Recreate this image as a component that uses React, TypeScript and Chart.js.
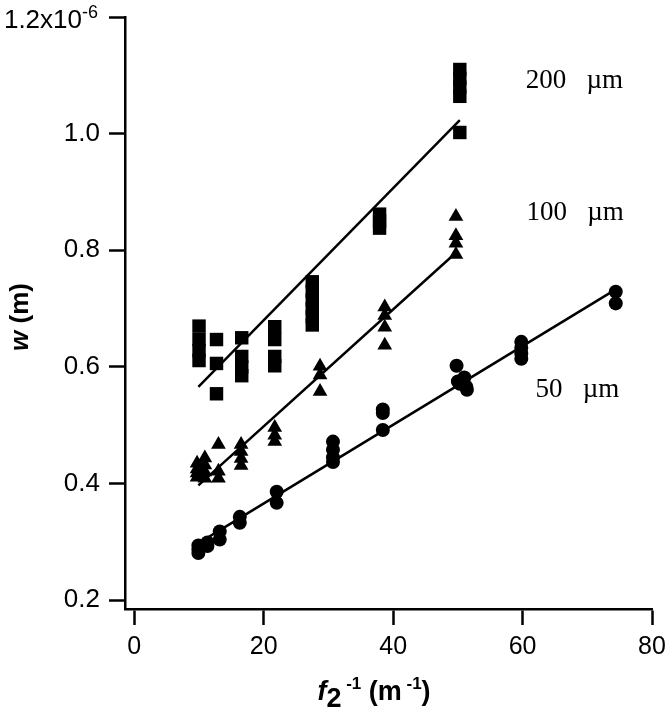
import React, { useEffect, useRef } from 'react';
import { Chart, registerables } from 'chart.js';

Chart.register(...registerables);

// ---------- data ----------
const xTicks = [0, 20, 40, 60, 80];
const yTicks = [0.2, 0.4, 0.6, 0.8, 1.0, 1.2];

// 200 µm (squares)
const sqX = [10.0, 10.0, 10.0, 10.0, 12.7, 12.7, 12.7, 16.6, 16.6, 16.6, 16.6, 21.7, 21.7, 21.7, 21.7, 27.5, 27.5, 27.5, 27.5, 27.5, 27.5, 37.9, 37.9, 37.9, 50.3, 50.3, 50.3, 50.3, 50.3];
const sqY = [0.670, 0.647, 0.628, 0.611, 0.647, 0.606, 0.554, 0.650, 0.618, 0.600, 0.585, 0.669, 0.647, 0.618, 0.602, 0.746, 0.730, 0.715, 0.700, 0.686, 0.672, 0.862, 0.850, 0.838, 1.110, 1.095, 1.080, 1.064, 1.002];

// 100 µm (triangles)
const trX = [9.7, 9.7, 9.7, 9.7, 10.9, 10.9, 10.9, 10.9, 13.0, 13.0, 13.0, 16.5, 16.5, 16.5, 16.5, 21.7, 21.7, 21.7, 28.7, 28.7, 28.7, 38.7, 38.7, 38.7, 38.7, 49.7, 49.7, 49.7, 49.7];
const trY = [0.435, 0.425, 0.418, 0.411, 0.444, 0.432, 0.420, 0.409, 0.467, 0.421, 0.409, 0.467, 0.455, 0.443, 0.431, 0.496, 0.483, 0.472, 0.601, 0.586, 0.558, 0.703, 0.688, 0.668, 0.637, 0.858, 0.825, 0.812, 0.793];

// 50 µm (circles)
const ciX = [9.9, 9.9, 9.9, 11.3, 11.3, 13.2, 13.2, 16.3, 16.3, 22.0, 22.0, 30.7, 30.7, 30.7, 30.7, 38.4, 38.4, 38.4, 49.8, 50.0, 50.3, 51.0, 51.3, 51.4, 59.8, 59.8, 59.8, 59.8, 74.4, 74.4];
const ciY = [0.294, 0.287, 0.281, 0.299, 0.293, 0.318, 0.304, 0.343, 0.333, 0.386, 0.367, 0.472, 0.458, 0.445, 0.437, 0.527, 0.521, 0.492, 0.602, 0.575, 0.571, 0.582, 0.566, 0.561, 0.643, 0.633, 0.623, 0.614, 0.729, 0.709];

// fitted lines (end points)
const fit200X = [9.9, 50.3];
const fit200Y = [0.566, 1.023];
const fit100X = [9.9, 49.6];
const fit100Y = [0.397, 0.795];
const fit50X = [9.8, 74.4];
const fit50Y = [0.297, 0.733];

// series labels
const seriesLabels = ['200   µm', '100   µm', '50   µm'];
const seriesLabelX = [60.5, 60.6, 62.0];
const seriesLabelY = [1.079, 0.852, 0.548];

const SANS = '"Liberation Sans", Arial, sans-serif';
const SERIF = '"Liberation Serif", "Times New Roman", serif';

const pts = (xs: number[], ys: number[]) => xs.map((x, i) => ({ x, y: ys[i] }));

const textPlugin = {
  id: 'customText',
  afterDraw(chart: any) {
    const { ctx, chartArea } = chart;
    const xs = chart.scales.x;
    const ys = chart.scales.y;
    ctx.save();
    ctx.fillStyle = '#000';

    // top y tick label: 1.2x10^-6
    const topY = ys.getPixelForValue(1.2);
    const rightEdge = 98;
    ctx.font = `26px ${SANS}`;
    const w1 = ctx.measureText('1.2x10').width;
    ctx.font = `18px ${SANS}`;
    const w2 = ctx.measureText('-6').width;
    const start = rightEdge - w1 - w2;
    ctx.textAlign = 'left';
    ctx.textBaseline = 'middle';
    ctx.font = `26px ${SANS}`;
    ctx.fillText('1.2x10', start, topY + 4);
    ctx.textBaseline = 'alphabetic';
    ctx.font = `18px ${SANS}`;
    ctx.fillText('-6', start + w1, topY + 1);

    // x title
    const xPieces = [
      { t: 'f', f: `italic bold 27px ${SANS}`, dy: 0 },
      { t: '2', f: `bold 27px ${SANS}`, dy: 7 },
      { t: ' -1', f: `bold 17px ${SANS}`, dy: -11 },
      { t: ' (m', f: `bold 27px ${SANS}`, dy: 0 },
      { t: ' -1', f: `bold 17px ${SANS}`, dy: -11 },
      { t: ')', f: `bold 27px ${SANS}`, dy: 0 },
    ];
    let total = 0;
    xPieces.forEach((p) => { ctx.font = p.f; total += ctx.measureText(p.t).width; });
    let cx = 374 - total / 2;
    const base = 700;
    xPieces.forEach((p) => {
      ctx.font = p.f;
      ctx.fillText(p.t, cx, base + p.dy);
      cx += ctx.measureText(p.t).width;
    });

    // y title (rotated)
    const yPieces = [
      { t: 'w', f: `italic bold 26px ${SANS}` },
      { t: ' (m)', f: `bold 26px ${SANS}` },
    ];
    let ytot = 0;
    yPieces.forEach((p) => { ctx.font = p.f; ytot += ctx.measureText(p.t).width; });
    ctx.save();
    ctx.translate(28, (chartArea.top + chartArea.bottom) / 2 + 4);
    ctx.rotate(-Math.PI / 2);
    let cy = -ytot / 2;
    yPieces.forEach((p) => {
      ctx.font = p.f;
      ctx.fillText(p.t, cy, 0);
      cy += ctx.measureText(p.t).width;
    });
    ctx.restore();

    // series labels
    ctx.font = `27px ${SERIF}`;
    ctx.textBaseline = 'alphabetic';
    seriesLabels.forEach((s, i) => {
      ctx.fillText(s, xs.getPixelForValue(seriesLabelX[i]), ys.getPixelForValue(seriesLabelY[i]));
    });
    ctx.restore();
  },
};

export default function App() {
  const ref = useRef<HTMLCanvasElement | null>(null);
  useEffect(() => {
    if (!ref.current) return;
    const markerBase = { showLine: false, backgroundColor: '#000', borderColor: '#000', borderWidth: 0 };
    const lineBase = { showLine: true, borderColor: '#000', borderWidth: 2.5, pointRadius: 0, backgroundColor: '#000' };
    const chart = new Chart(ref.current, {
      type: 'scatter',
      data: {
        datasets: [
          { ...lineBase, label: 'fit 200', data: pts(fit200X, fit200Y) },
          { ...lineBase, label: 'fit 100', data: pts(fit100X, fit100Y) },
          { ...lineBase, label: 'fit 50', data: pts(fit50X, fit50Y) },
          { ...markerBase, label: '200 µm', data: pts(sqX, sqY), pointStyle: 'rect', pointRadius: 9.5 },
          { ...markerBase, label: '100 µm', data: pts(trX, trY), pointStyle: 'triangle', pointRadius: 8.5 },
          { ...markerBase, label: '50 µm', data: pts(ciX, ciY), pointStyle: 'circle', pointRadius: 7 },
        ],
      },
      options: {
        responsive: false,
        animation: false,
        devicePixelRatio: 1,
        layout: { padding: { top: 17, right: 16, left: 0, bottom: 0 } },
        plugins: { legend: { display: false }, tooltip: { enabled: false }, title: { display: false } },
        scales: {
          x: {
            type: 'linear',
            min: -1.44,
            max: 80,
            afterBuildTicks: (s: any) => { s.ticks = xTicks.map((v) => ({ value: v })); },
            afterFit: (s: any) => { s.height = 110; s.paddingLeft = 0; s.paddingRight = 0; },
            ticks: { color: '#000', font: { family: SANS, size: 25 }, padding: 7, maxRotation: 0, autoSkip: false },
            grid: { display: true, drawOnChartArea: false, drawTicks: true, tickLength: 16, tickWidth: 2.5, tickColor: '#000' },
            border: { display: true, color: '#000', width: 2.5 },
          },
          y: {
            type: 'linear',
            min: 0.185,
            max: 1.2,
            afterBuildTicks: (s: any) => { s.ticks = yTicks.map((v) => ({ value: v })); },
            afterFit: (s: any) => { s.width = 125; s.paddingTop = 0; s.paddingBottom = 0; },
            ticks: {
              color: '#000',
              font: { family: SANS, size: 26 },
              padding: 9,
              autoSkip: false,
              callback: (v: any) => (Math.abs(v - 1.2) < 1e-9 ? '' : Number(v).toFixed(1)),
            },
            grid: { display: true, drawOnChartArea: false, drawTicks: true, tickLength: 16, tickWidth: 2.5, tickColor: '#000' },
            border: { display: true, color: '#000', width: 2.5 },
          },
        },
      },
      plugins: [textPlugin],
    } as any);
    return () => chart.destroy();
  }, []);
  return (
    <div style={{ position: 'fixed', left: 0, top: 0, width: 668, height: 719, background: '#fff' }}>
      <canvas ref={ref} width={668} height={719} style={{ display: 'block', width: 668, height: 719 }} />
    </div>
  );
}
